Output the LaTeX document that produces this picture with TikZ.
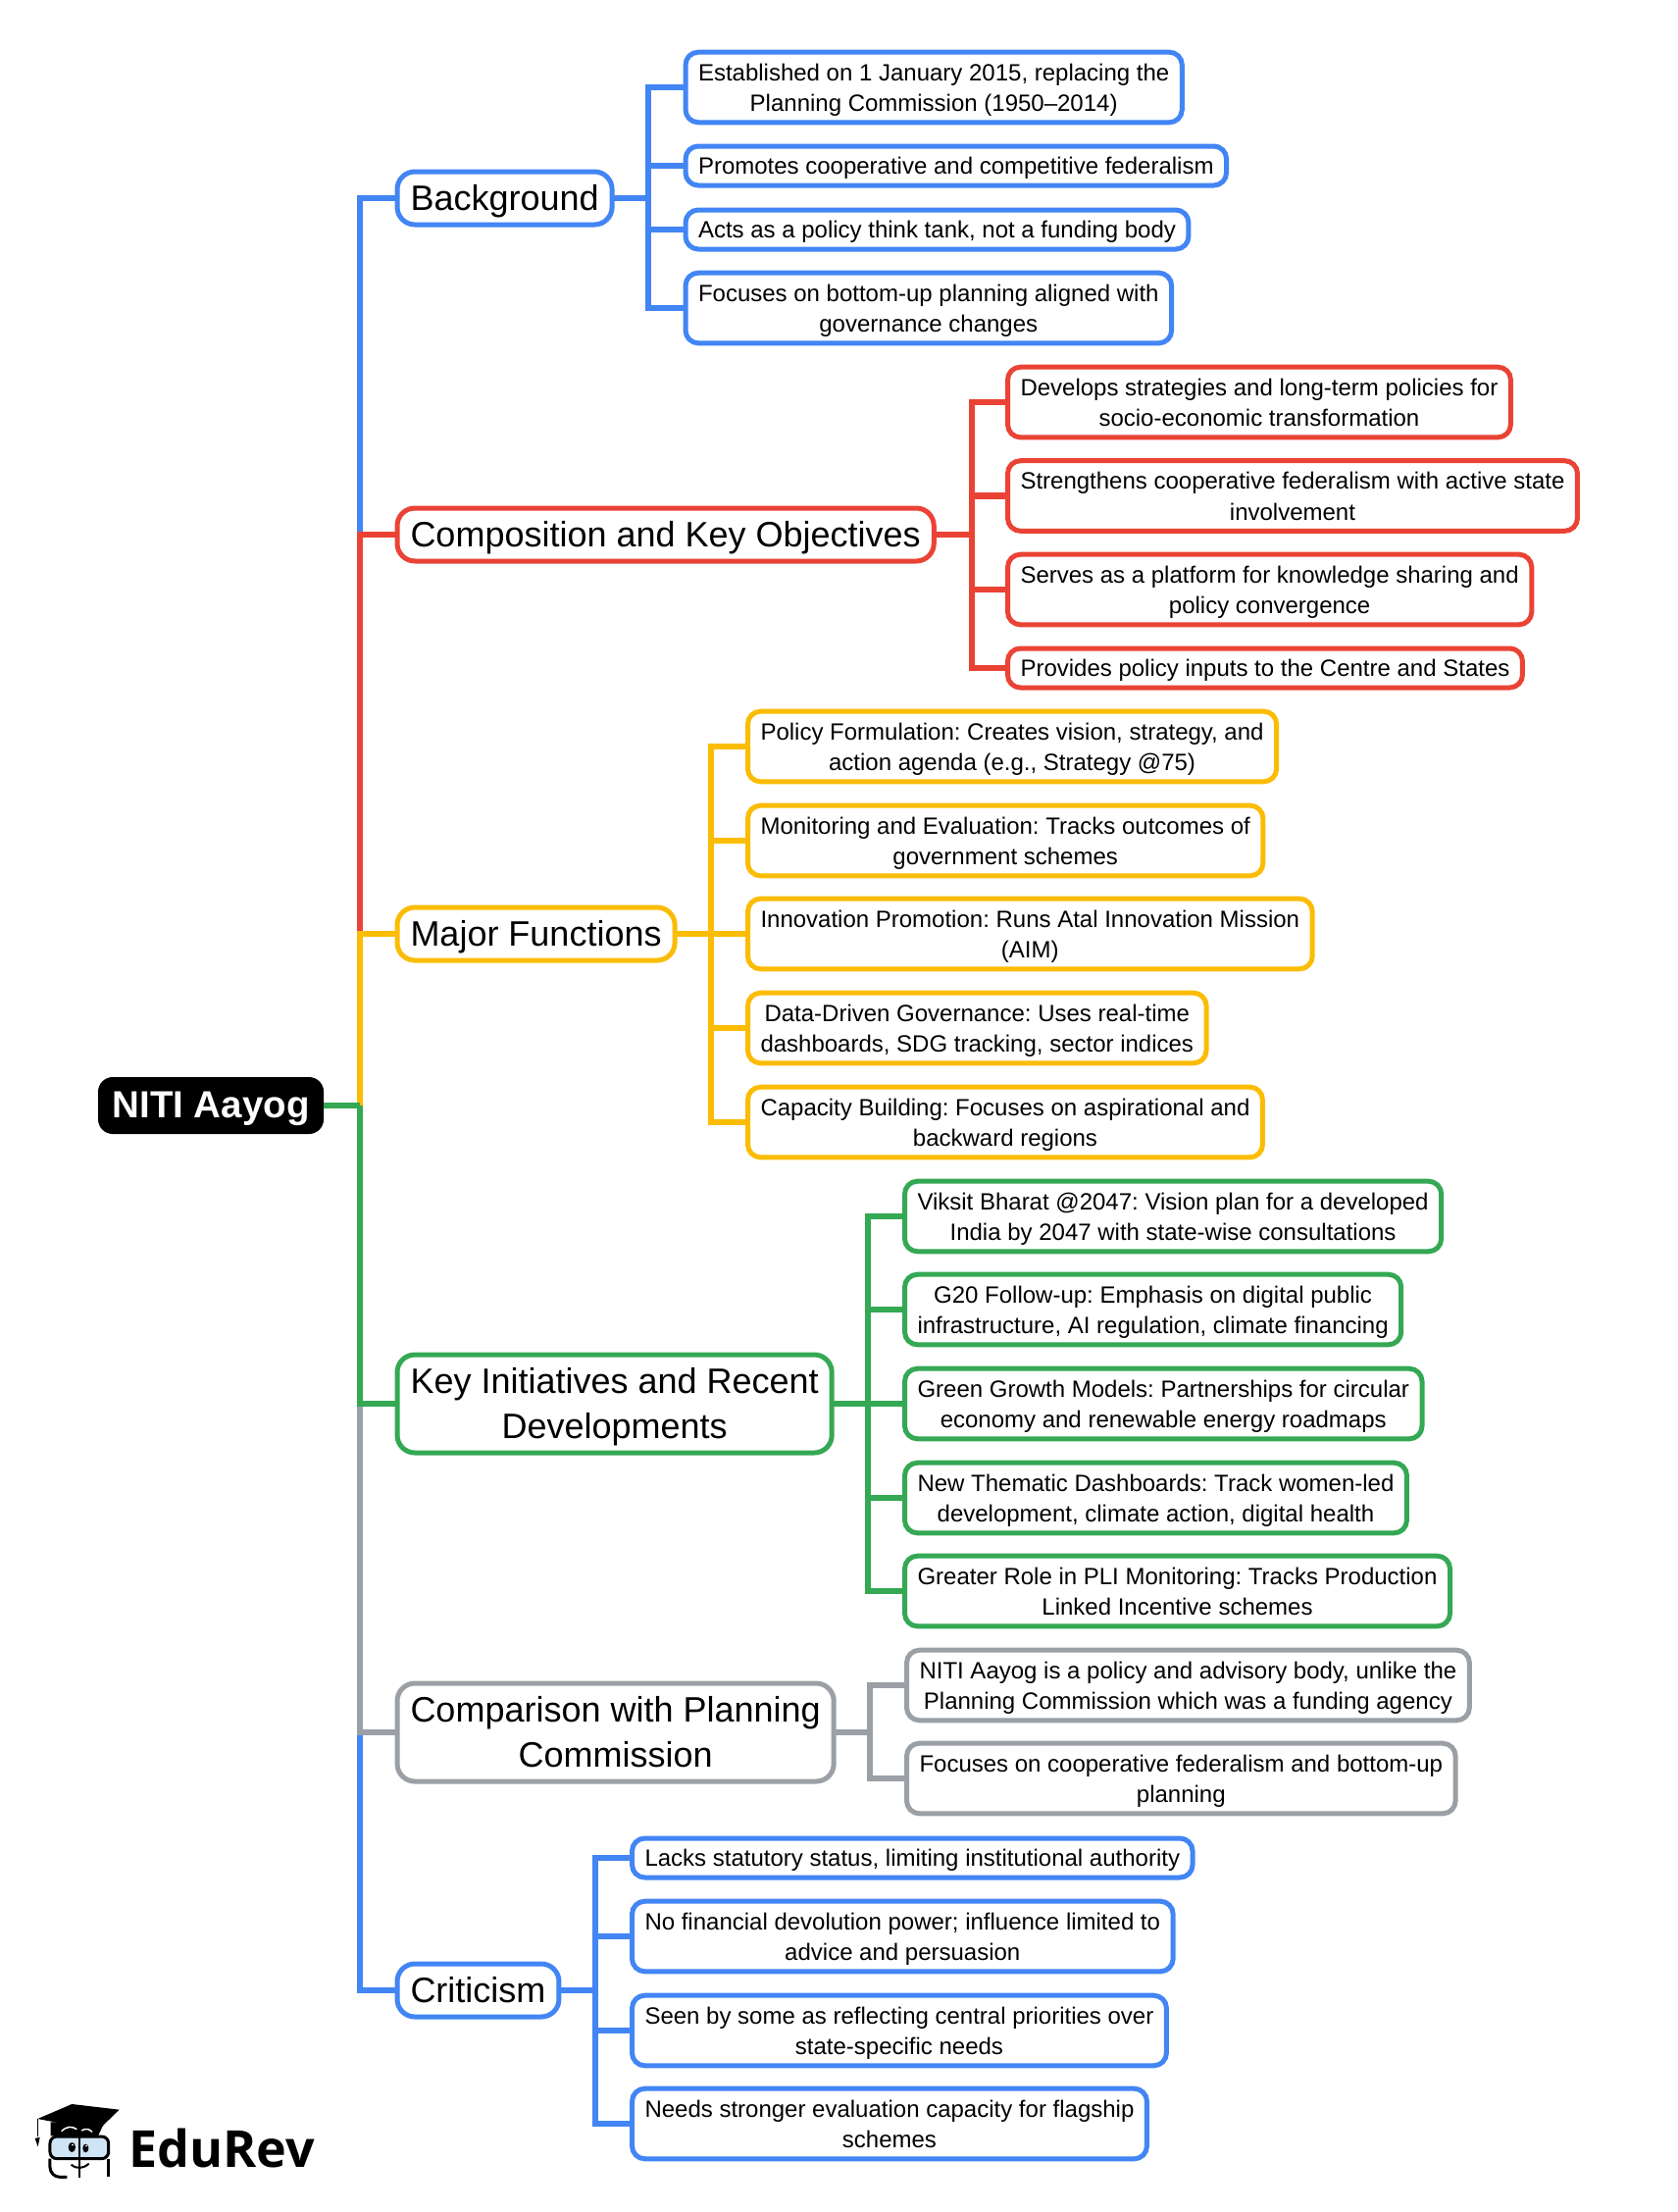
\documentclass[tikz,border=0pt]{standalone}
\usepackage{fontspec}
\setmainfont{Liberation Sans}
\newfontfamily\logofont{Open Sans}
\definecolor{nblue}{HTML}{4285F4}
\definecolor{nred}{HTML}{EA4335}
\definecolor{nyellow}{HTML}{FBBC04}
\definecolor{ngreen}{HTML}{34A853}
\definecolor{ngrey}{HTML}{9AA0A6}
\definecolor{nglass}{HTML}{CFE4F5}
\newcommand{\st}{\rule[-.22\baselineskip]{0pt}{\baselineskip}}
\tikzset{
  strutted/.style={align=center,outer sep=0pt,anchor=west},
  rootnode/.style={strutted,fill=black,text=white,rounded corners=15,
    inner xsep=14.5,inner ysep=6,font=\fontsize{38.5}{46}\selectfont\bfseries},
  branch/.style={strutted,draw=#1,fill=white,line width=5,rounded corners=18,
    inner xsep=13.5,inner ysep=4,font=\fontsize{36}{46}\selectfont},
  leaf/.style={strutted,draw=#1,fill=white,line width=5,rounded corners=13,
    inner xsep=13,inner ysep=4.2,font=\fontsize{24}{31.6}\selectfont\frenchspacing},
  wire/.style={draw=#1,line width=6.5},
}
\begin{document}
\begin{tikzpicture}[x=1pt,y=-1pt]
\useasboundingbox (0,0) rectangle (1711,2255);
% root
\node[rootnode] (root) at (100,1127) {\st NITI Aayog};
\coordinate (trunk) at (367,1127);
% branches
\node[branch=nblue] (bg) at (405,202) {\st Background};
\node[branch=nred] (comp) at (405,545) {\st Composition and Key Objectives};
\node[branch=nyellow] (func) at (405,952) {\st Major Functions};
\node[branch=ngreen] (init) at (405,1431) {\st Key Initiatives and Recent\\\st Developments};
\node[branch=ngrey] (plan) at (405,1766) {\st Comparison with Planning\\\st Commission};
\node[branch=nblue] (crit) at (405,2029) {\st Criticism};
% Background
\node[leaf=nblue] (bg1) at (699,89) {\st Established on 1 January 2015, replacing the\\\st Planning Commission (1950–2014)};
\node[leaf=nblue] (bg2) at (699,169) {\st Promotes cooperative and competitive federalism};
\node[leaf=nblue] (bg3) at (699,234) {\st Acts as a policy think tank, not a funding body};
\node[leaf=nblue] (bg4) at (699,314) {\st Focuses on bottom-up planning aligned with\\\st governance changes};
\coordinate (bghub) at (661,202);
% Composition
\node[leaf=nred] (comp1) at (1027.5,410) {\st Develops strategies and long-term policies for\\\st socio-economic transformation};
\node[leaf=nred] (comp2) at (1027.5,505.5) {\st Strengthens cooperative federalism with active state\\\st involvement};
\node[leaf=nred] (comp3) at (1027.5,601) {\st Serves as a platform for knowledge sharing and\\\st policy convergence};
\node[leaf=nred] (comp4) at (1027.5,681) {\st Provides policy inputs to the Centre and States};
\coordinate (comphub) at (991,545);
% Functions
\node[leaf=nyellow] (func1) at (762.5,761) {\st Policy Formulation: Creates vision, strategy, and\\\st action agenda (e.g., Strategy @75)};
\node[leaf=nyellow] (func2) at (762.5,857) {\st Monitoring and Evaluation: Tracks outcomes of\\\st government schemes};
\node[leaf=nyellow] (func3) at (762.5,952) {\st Innovation Promotion: Runs Atal Innovation Mission\\\st (AIM)};
\node[leaf=nyellow] (func4) at (762.5,1048) {\st Data-Driven Governance: Uses real-time\\\st dashboards, SDG tracking, sector indices};
\node[leaf=nyellow] (func5) at (762.5,1144) {\st Capacity Building: Focuses on aspirational and\\\st backward regions};
\coordinate (funchub) at (725,952);
% Initiatives
\node[leaf=ngreen] (init1) at (922.5,1240) {\st Viksit Bharat @2047: Vision plan for a developed\\\st India by 2047 with state-wise consultations};
\node[leaf=ngreen] (init2) at (922.5,1335) {\st G20 Follow-up: Emphasis on digital public\\\st infrastructure, AI regulation, climate financing};
\node[leaf=ngreen] (init3) at (922.5,1431) {\st Green Growth Models: Partnerships for circular\\\st economy and renewable energy roadmaps};
\node[leaf=ngreen] (init4) at (922.5,1527) {\st New Thematic Dashboards: Track women-led\\\st development, climate action, digital health};
\node[leaf=ngreen] (init5) at (922.5,1622) {\st Greater Role in PLI Monitoring: Tracks Production\\\st Linked Incentive schemes};
\coordinate (inithub) at (885,1431);
% Comparison
\node[leaf=ngrey] (plan1) at (924.5,1718) {\st NITI Aayog is a policy and advisory body, unlike the\\\st Planning Commission which was a funding agency};
\node[leaf=ngrey] (plan2) at (924.5,1813) {\st Focuses on cooperative federalism and bottom-up\\\st planning};
\coordinate (planhub) at (887,1766);
% Criticism
\node[leaf=nblue] (crit1) at (644.5,1894) {\st Lacks statutory status, limiting institutional authority};
\node[leaf=nblue] (crit2) at (644.5,1974) {\st No financial devolution power; influence limited to\\\st advice and persuasion};
\node[leaf=nblue] (crit3) at (644.5,2070) {\st Seen by some as reflecting central priorities over\\\st state-specific needs};
\node[leaf=nblue] (crit4) at (644.5,2165) {\st Needs stronger evaluation capacity for flagship\\\st schemes};
\coordinate (crithub) at (607,2029);
% trunk lines
\draw[wire=nblue] (trunk) |- (bg.west);
\draw[wire=nred] (trunk) |- (comp.west);
\draw[wire=nyellow] (trunk) |- (func.west);
\draw[wire=nblue] (trunk) |- (crit.west);
\draw[wire=ngrey] (trunk) |- (plan.west);
\draw[wire=ngreen] (trunk) |- (init.west);
\draw[wire=ngreen] (root.east) -- (trunk);
% leaf lines
\draw[wire=nblue] (bg.east) -- (bghub);
\draw[wire=nblue] (bghub) |- (bg1.west);
\draw[wire=nblue] (bghub) |- (bg2.west);
\draw[wire=nblue] (bghub) |- (bg3.west);
\draw[wire=nblue] (bghub) |- (bg4.west);
\draw[wire=nred] (comp.east) -- (comphub);
\draw[wire=nred] (comphub) |- (comp1.west);
\draw[wire=nred] (comphub) |- (comp2.west);
\draw[wire=nred] (comphub) |- (comp3.west);
\draw[wire=nred] (comphub) |- (comp4.west);
\draw[wire=nyellow] (func.east) -- (funchub);
\draw[wire=nyellow] (funchub) |- (func1.west);
\draw[wire=nyellow] (funchub) |- (func2.west);
\draw[wire=nyellow] (funchub) -- (func3.west);
\draw[wire=nyellow] (funchub) |- (func4.west);
\draw[wire=nyellow] (funchub) |- (func5.west);
\draw[wire=ngreen] (init.east) -- (inithub);
\draw[wire=ngreen] (inithub) |- (init1.west);
\draw[wire=ngreen] (inithub) |- (init2.west);
\draw[wire=ngreen] (inithub) -- (init3.west);
\draw[wire=ngreen] (inithub) |- (init4.west);
\draw[wire=ngreen] (inithub) |- (init5.west);
\draw[wire=ngrey] (plan.east) -- (planhub);
\draw[wire=ngrey] (planhub) |- (plan1.west);
\draw[wire=ngrey] (planhub) |- (plan2.west);
\draw[wire=nblue] (crit.east) -- (crithub);
\draw[wire=nblue] (crithub) |- (crit1.west);
\draw[wire=nblue] (crithub) |- (crit2.west);
\draw[wire=nblue] (crithub) |- (crit3.west);
\draw[wire=nblue] (crithub) |- (crit4.west);
% logo
\begin{scope}[shift={(0,2080)},x=0.3333pt,y=-0.3333pt]
\fill (155,250) -- (155,292) -- (300,292) -- (320,250) -- cycle;
\draw[white,line width=1.5] (188,278) .. controls (205,262) and (220,262) .. (235,272);
\draw[white,line width=1.5] (250,276) .. controls (262,268) and (272,270) .. (282,280);
\fill (115,240) -- (220,195) -- (365,212) -- (300,275) -- cycle;
\draw[line width=1.5] (115,240) -- (115,295);
\fill (107,300) -- (122,296) -- (116,325) -- cycle;
\draw[line width=3,fill=nglass,rounded corners=7] (153,294) rectangle (332,362);
\draw[line width=3,rounded corners=10] (153,362) -- (153,418) -- (205,418);
\draw[line width=3,rounded corners=10] (332,362) -- (332,418);
\draw[line width=2.5] (243,292) -- (243,420);
\fill (220,327) ellipse (11 and 15);
\fill (262,330) ellipse (9 and 13);
\fill[white] (222,320) circle (3);
\fill[white] (264,323) circle (3);
\draw[line width=2] (218,380) .. controls (235,395) and (255,392) .. (272,377);
\end{scope}
\node[anchor=base west,inner sep=0pt,font=\fontsize{52}{52}\selectfont\logofont\bfseries] (logotext) at (131,2209) {EduRev};
\end{tikzpicture}
\end{document}
